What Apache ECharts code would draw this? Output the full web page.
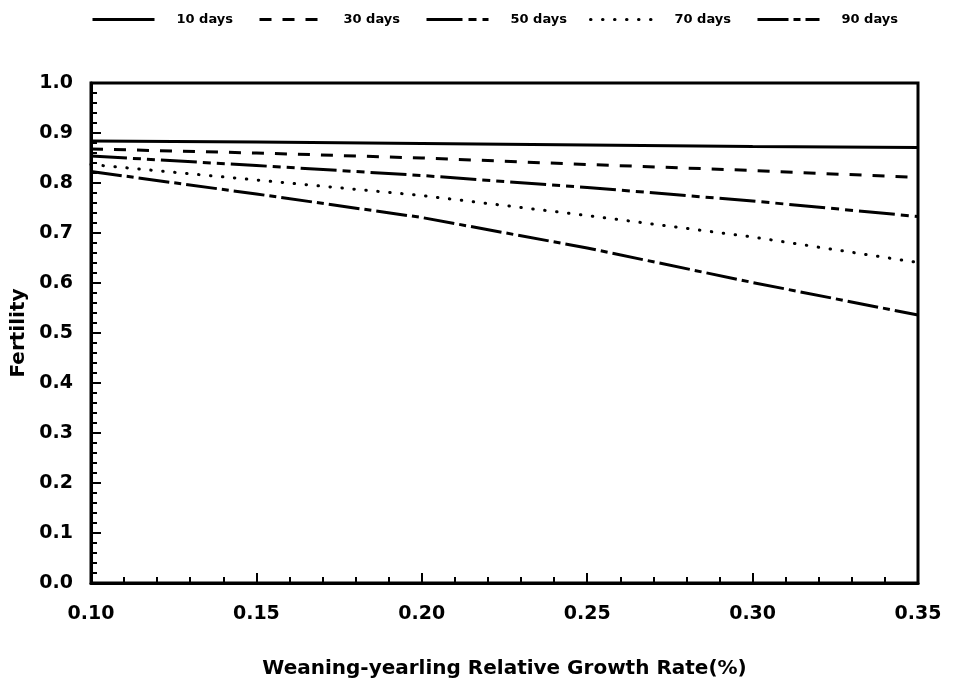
<!DOCTYPE html>
<html>
<head>
<meta charset="utf-8">
<script src="https://cdn.jsdelivr.net/npm/echarts@6/dist/echarts.min.js"></script>
<style>html,body{margin:0;padding:0;background:#fff}#c{width:955px;height:691px}</style>
</head>
<body>
<div id="c"></div>
<script>
const growthRate = [0.10, 0.15, 0.20, 0.25, 0.30, 0.35];
const seriesNames = ['10 days', '30 days', '50 days', '70 days', '90 days'];
const days10 = [0.884, 0.882, 0.879, 0.876, 0.873, 0.871];
const days30 = [0.868, 0.860, 0.850, 0.837, 0.825, 0.811];
const days50 = [0.854, 0.835, 0.815, 0.791, 0.764, 0.733];
const days70 = [0.837, 0.806, 0.775, 0.735, 0.692, 0.641];
const days90 = [0.823, 0.778, 0.731, 0.670, 0.601, 0.536];
const xTicks = ['0.10', '0.15', '0.20', '0.25', '0.30', '0.35'];

const allValues = [days10, days30, days50, days70, days90];
const dashes = ['solid', [12, 11], [36, 6, 8, 6, 8, 6], [0.5, 11.5], [31, 5, 7, 5]];
const caps = ['butt', 'butt', 'butt', 'round', 'butt'];
const legendLeft = [91, 258, 425, 589, 756];
const FONT = 'DejaVu Sans';

const chart = echarts.init(document.getElementById('c'), null, {renderer: 'canvas'});
const option = {
  animation: false,
  backgroundColor: '#fff',
  legend: seriesNames.map((n, i) => ({
    data: [n],
    left: legendLeft[i],
    top: 13,
    padding: 0,
    itemWidth: 62,
    itemHeight: 16,
    itemStyle: {opacity: 0},
    lineStyle: {width: 3, color: '#000', type: dashes[i], cap: caps[i]},
    textStyle: {fontFamily: FONT, fontWeight: 'bold', fontSize: 13, color: '#000', padding: [0, 0, 0, 17]}
  })),
  grid: {left: 91, right: 37, top: 83, bottom: 108, show: true, borderColor: '#000', borderWidth: 3, backgroundColor: 'transparent'},
  xAxis: {
    type: 'value', min: 0.1, max: 0.35, interval: 0.05,
    name: 'Weaning-yearling Relative Growth Rate(%)', nameLocation: 'middle', nameGap: 76,
    nameTextStyle: {fontFamily: FONT, fontWeight: 'bold', fontSize: 20, color: '#000'},
    axisLine: {show: true, lineStyle: {color: '#000', width: 3}},
    axisTick: {show: true, inside: true, length: 10, lineStyle: {color: '#000', width: 2}},
    minorTick: {show: true, splitNumber: 5, length: 6, lineStyle: {color: '#000', width: 2}},
    splitLine: {show: false},
    axisLabel: {margin: 22, fontFamily: FONT, fontWeight: 'bold', fontSize: 19, color: '#000',
      formatter: v => xTicks[Math.round((v - 0.1) / 0.05)] }
  },
  yAxis: {
    type: 'value', min: 0, max: 1, interval: 0.1,
    name: 'Fertility', nameLocation: 'middle', nameGap: 53,
    nameTextStyle: {fontFamily: FONT, fontWeight: 'bold', fontSize: 20, color: '#000'},
    axisLine: {show: true, lineStyle: {color: '#000', width: 3}},
    axisTick: {show: true, inside: true, length: 10, lineStyle: {color: '#000', width: 2}},
    minorTick: {show: true, splitNumber: 5, length: 6, lineStyle: {color: '#000', width: 2}},
    splitLine: {show: false},
    axisLabel: {margin: 18, fontFamily: FONT, fontWeight: 'bold', fontSize: 19, color: '#000',
      padding: [5, 0, 0, 0],
      formatter: v => v.toFixed(1)}
  },
  series: seriesNames.map((n, i) => ({
    name: n,
    type: 'line',
    data: growthRate.map((x, j) => [x, allValues[i][j]]),
    symbol: 'none',
    smooth: false,
    lineStyle: {color: '#000', width: 3, type: dashes[i], cap: caps[i]},
    itemStyle: {color: '#000'}
  }))
};
chart.setOption(option);
</script>
</body>
</html>
